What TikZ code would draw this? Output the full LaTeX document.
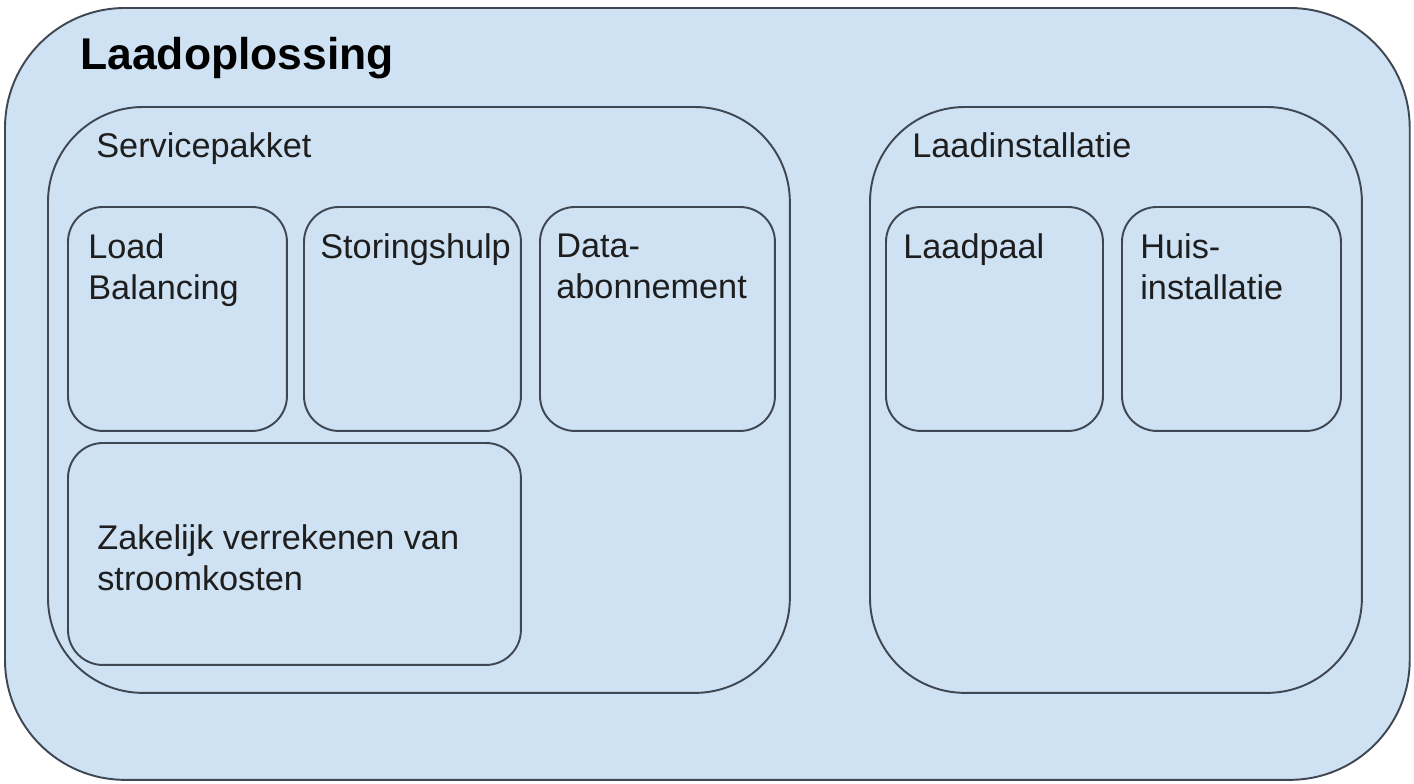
\documentclass[tikz,border=0pt]{standalone}
\usepackage{fontspec}
\setmainfont{Liberation Sans}
\usetikzlibrary{positioning,calc}
\definecolor{panel}{HTML}{CFE2F3}
\definecolor{edge}{HTML}{3F4852}
\definecolor{ink}{HTML}{1E1E1E}
\tikzset{
  frame/.style={draw=edge,fill=panel,line width=1.1pt,inner sep=0pt,outer sep=0pt,anchor=north west},
  outerbox/.style={frame,rounded corners=2.4cm},
  groupbox/.style={frame,rounded corners=1.9cm,minimum height=11.72cm},
  itembox/.style={frame,rounded corners=0.7cm,minimum height=4.48cm},
  lbl/.style={anchor=base west,inner sep=0pt,align=left,text=ink,
    font=\fontsize{19.5}{23.2}\selectfont},
  ttl/.style={lbl,font=\fontsize{25.3}{30}\selectfont\bfseries,text=black}
}
\begin{document}
\begin{tikzpicture}[x=0.02cm,y=-0.02cm]
  \useasboundingbox (0,0) rectangle (1414,784);
  \node[outerbox,minimum width=28.1cm,minimum height=15.44cm] (sol) at (5,8) {};
  \node[groupbox,minimum width=14.84cm] (svc) at (48,107) {};
  \node[groupbox,minimum width=9.84cm] (inst) at (870,107) {};
  \node[itembox,minimum width=4.38cm] (lb) at (68,207) {};
  \node[itembox,minimum width=4.34cm] (sh) at (304,207) {};
  \node[itembox,minimum width=4.7cm] (da) at (540,207) {};
  \node[itembox,minimum width=9.06cm,minimum height=4.44cm] (zv) at (68,443) {};
  \node[itembox,minimum width=4.34cm] (lp) at (886,207) {};
  \node[itembox,minimum width=4.38cm] (hi) at (1122,207) {};
  \node[ttl] (soltxt) at ($(sol.north west)+(75,62)$) {Laadoplossing};
  \node[lbl] (svctxt) at ($(svc.north west)+(48,50)$) {Servicepakket};
  \node[lbl] (insttxt) at ($(inst.north west)+(42,50)$) {Laadinstallatie};
  \node[lbl] (lbtxt) at ($(lb.north west)+(20,92)$) {Load\\Balancing};
  \node[lbl] (shtxt) at ($(sh.north west)+(16,51)$) {Storingshulp};
  \node[lbl] (datxt) at ($(da.north west)+(16,91)$) {Data-\\abonnement};
  \node[lbl] (zvtxt) at ($(zv.north west)+(29,147)$) {Zakelijk verrekenen van\\stroomkosten};
  \node[lbl] (lptxt) at ($(lp.north west)+(17,51)$) {Laadpaal};
  \node[lbl] (hitxt) at ($(hi.north west)+(18,92)$) {Huis-\\installatie};
\end{tikzpicture}
\end{document}
